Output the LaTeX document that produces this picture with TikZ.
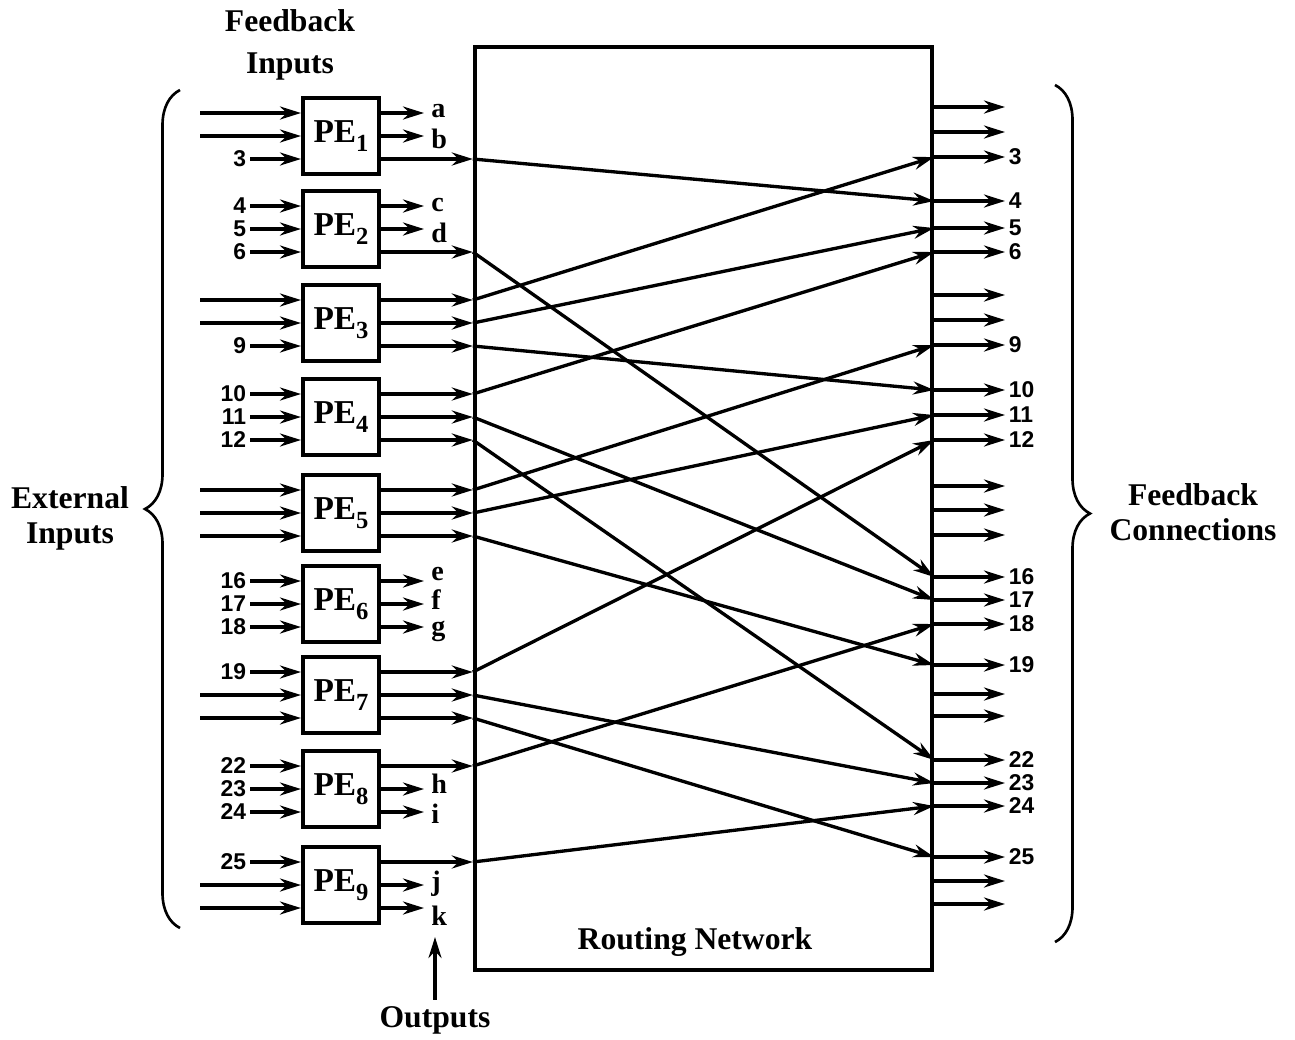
\documentclass[tikz,border=0pt]{standalone}
\usepackage{fontspec}
\setmainfont{Liberation Serif}
\setsansfont{Liberation Sans}
\usetikzlibrary{arrows.meta,decorations.pathreplacing}
\tikzstyle{arrow} = [-{Stealth[length=4.2mm,width=2.6mm]}, line width=1.9pt]
\tikzstyle{pe} = [draw, line width=2.3pt, minimum size=1.52cm, inner sep=0pt, font=\fontsize{19}{22}\selectfont\bfseries]
\tikzstyle{num} = [inner sep=2pt, font=\fontsize{13}{15}\selectfont\sffamily\bfseries]
\tikzstyle{letter} = [anchor=base west, inner xsep=4pt, inner ysep=0pt, font=\fontsize{16}{17}\selectfont\bfseries]
\tikzstyle{heading} = [align=center, font=\fontsize{18}{20}\selectfont\bfseries]
\tikzstyle{curly} = [decorate, decoration={brace, amplitude=0.7cm}, line width=1.5pt]
\newcommand{\pelabel}[1]{PE\raisebox{-5pt}{\fontsize{14}{14}\selectfont #1}}

\begin{document}
\begin{tikzpicture}[x=0.02cm, y=-0.02cm]
\useasboundingbox (0,0) rectangle (1295,1039);

% Routing network
\node[draw, line width=2.5pt, minimum width=9.14cm, minimum height=18.46cm, inner sep=0pt] (net) at (703.5,508.5) {};
\node[heading] (netlbl) at (695,942) {Routing Network};

% Processing elements
\node[pe] (pe1) at (341,136) {\pelabel{1}};
\node[pe] (pe2) at (341,229) {\pelabel{2}};
\node[pe] (pe3) at (341,323) {\pelabel{3}};
\node[pe] (pe4) at (341,417) {\pelabel{4}};
\node[pe] (pe5) at (341,513) {\pelabel{5}};
\node[pe] (pe6) at (341,604) {\pelabel{6}};
\node[pe] (pe7) at (341,695) {\pelabel{7}};
\node[pe] (pe8) at (341,789) {\pelabel{8}};
\node[pe] (pe9) at (341,885) {\pelabel{9}};

% External inputs
\foreach \y/\p in {113/1, 136/1, 300/3, 323/3, 490/5, 513/5, 536/5, 695/7, 718/7, 885/9, 908/9} {
  \coordinate (ext) at (200,\y);
  \draw[arrow] (ext) -- (ext -| pe\p.west);
}

% Feedback inputs
\foreach \n/\y/\p in {3/159/1, 4/206/2, 5/229/2, 6/252/2, 9/346/3, 10/394/4, 11/417/4, 12/440/4, 16/581/6, 17/604/6, 18/627/6, 19/672/7, 22/766/8, 23/789/8, 24/812/8, 25/862/9} {
  \node[num, anchor=east] (in\n) at (250,\y) {\n};
  \draw[arrow] (in\n) -- (in\n -| pe\p.west);
}

% Outputs (arrow height / text baseline)
\foreach \l/\y/\b/\p in {a/113/117/1, b/136/148/1, c/206/211/2, d/229/242/2, e/581/580/6, f/604/609/6, g/627/635/6, h/789/793/8, i/812/823/8, j/885/890/9, k/908/925/9} {
  \coordinate (t\l) at (424,\y);
  \node[letter] (o\l) at (424,\b) {\l};
  \draw[arrow] (t\l -| pe\p.east) -- (t\l);
}
\node[heading] (outlbl) at (435,1020) {Outputs};
\coordinate (outtip) at (435,937);
\draw[arrow] (outlbl) -- (outtip);

% Feedback connections
\foreach \n/\y in {3/157, 4/201, 5/228, 6/252, 9/345, 10/390, 11/415, 12/440, 16/577, 17/600, 18/624, 19/665, 22/760, 23/783, 24/806, 25/857} {
  \node[num, anchor=west] (fb\n) at (1005,\y) {\n};
  \coordinate (dst\n) at (net.east |- fb\n);
  \draw[arrow] (dst\n) -- (fb\n);
}
\foreach \y in {107, 132, 295, 320, 486, 510, 535, 694, 716, 881, 904} {
  \coordinate (free) at (1005,\y);
  \draw[arrow] (net.east |- free) -- (free);
}

% Routes through the network
\foreach \y/\p/\d in {159/1/4, 252/2/16, 300/3/3, 323/3/5, 346/3/10, 394/4/6, 417/4/17, 440/4/22, 490/5/9, 513/5/11, 536/5/19, 672/7/12, 695/7/23, 718/7/25, 766/8/18, 862/9/24} {
  \coordinate (src) at (net.west |- 0,\y);
  \draw[arrow] (src -| pe\p.east) -- (src);
  \draw[arrow] (src) -- (dst\d);
}

% Braces
\draw[curly] (180,928) -- (180,90);
\draw[curly] (1055,85) -- (1055,942);
\node[heading] (extlbl) at (70,518) {External\\Inputs};
\node[heading] (fblbl) at (1193,512) {Feedback\\Connections};
\node[heading] (fbinlbl) at (290,45) {Feedback\\[4pt]Inputs};

\end{tikzpicture}
\end{document}
